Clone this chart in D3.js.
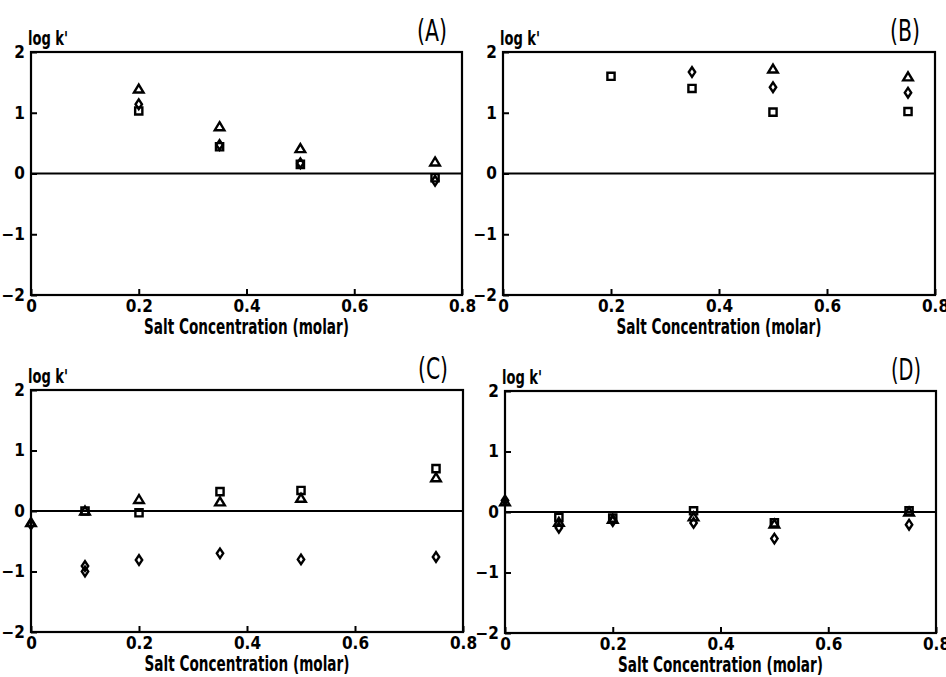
<!DOCTYPE html>
<html>
<head>
<meta charset="utf-8">
<script src="https://cdn.jsdelivr.net/npm/d3@7"></script>
<style>
  body { margin: 0; background: #fff; }
  svg { display: block; }
  .tick text { font-family: "Liberation Sans Narrow", "DejaVu Sans Condensed", sans-serif; font-weight: bold; fill: #000; }
</style>
</head>
<body>
<svg id="chart" width="946" height="677"></svg>
<script>
// x ticks and y ticks shared by all four panels
const xTicks = [0, 0.2, 0.4, 0.6, 0.8];
const yTicks = [-2, -1, 0, 1, 2];
const panelNames = ["(A)", "(B)", "(C)", "(D)"];

// [salt concentration, log k']
const aTriangle = [[0.2, 1.39], [0.35, 0.77], [0.5, 0.41], [0.75, 0.19]];
const aDiamond = [[0.2, 1.14], [0.35, 0.47], [0.5, 0.17], [0.75, -0.12]];
const aSquare = [[0.2, 1.03], [0.35, 0.44], [0.5, 0.15], [0.75, -0.07]];

const bTriangle = [[0.5, 1.72], [0.75, 1.59]];
const bDiamond = [[0.35, 1.67], [0.5, 1.42], [0.75, 1.33]];
const bSquare = [[0.2, 1.6], [0.35, 1.4], [0.5, 1.01], [0.75, 1.02]];

const cTriangle = [[0, -0.19], [0.1, 0.0], [0.2, 0.19], [0.35, 0.15], [0.5, 0.21], [0.75, 0.55]];
const cDiamond = [[0, -0.22], [0.1, -0.91], [0.1, -1.0], [0.2, -0.81], [0.35, -0.7], [0.5, -0.8], [0.75, -0.76]];
const cSquare = [[0.1, 0.0], [0.2, -0.03], [0.35, 0.32], [0.5, 0.34], [0.75, 0.7]];

const dTriangle = [[0, 0.17], [0.1, -0.17], [0.2, -0.12], [0.35, -0.08], [0.5, -0.2], [0.75, 0.0]];
const dDiamond = [[0, 0.19], [0.1, -0.26], [0.2, -0.15], [0.35, -0.18], [0.5, -0.44], [0.75, -0.21]];
const dSquare = [[0.1, -0.09], [0.2, -0.1], [0.35, 0.02], [0.5, -0.18], [0.75, 0.02]];

const panelData = [
    { triangle: aTriangle, diamond: aDiamond, square: aSquare },
    { triangle: bTriangle, diamond: bDiamond, square: bSquare },
    { triangle: cTriangle, diamond: cDiamond, square: cSquare },
    { triangle: dTriangle, diamond: dDiamond, square: dSquare }
];

// plot boxes (left, right, top, bottom)
const boxes = [
    { left: 31, right: 462, top: 52, bottom: 295 },
    { left: 503, right: 935, top: 52, bottom: 295 },
    { left: 31, right: 463, top: 390, bottom: 632 },
    { left: 505, right: 936, top: 391, bottom: 633 }
];

const shapes = {
    triangle: "M0,-4.5L4.8,3.5L-4.8,3.5Z",
    square: "M-3.6,-3.6H3.6V3.6H-3.6Z",
    diamond: "M0,-4.8L3.2,0L0,4.8L-3.2,0Z"
};

const narrow = '"Liberation Sans Narrow", "DejaVu Sans Condensed", sans-serif';
const svg = d3.select("#chart");

boxes.forEach((b, i) => {
    const x = d3.scaleLinear().domain([0, 0.8]).range([b.left, b.right]);
    const y = d3.scaleLinear().domain([-2, 2]).range([b.bottom, b.top]);
    const g = svg.append("g");

    // X Axis (ticks point inward)
    const xAxis = g.append("g")
        .attr("transform", `translate(0,${b.bottom})`)
        .call(d3.axisBottom(x).tickValues(xTicks).tickSize(-6).tickSizeOuter(0).tickPadding(5)
            .tickFormat(d => d === 0 ? "0" : d3.format(".1f")(d)));
    xAxis.selectAll("text").style("font-size", "17px");
    xAxis.select(".domain").remove();
    xAxis.selectAll("line").attr("stroke-width", 2);

    // Y Axis
    const yAxis = g.append("g")
        .attr("transform", `translate(${b.left},0)`)
        .call(d3.axisLeft(y).tickValues(yTicks).tickSize(-6).tickSizeOuter(0).tickPadding(6)
            .tickFormat(d => d < 0 ? "\u2212" + Math.abs(d) : String(d)));
    yAxis.selectAll("text").style("font-size", "17px");
    yAxis.select(".domain").remove();
    yAxis.selectAll("line").attr("stroke-width", 2);

    // frame
    g.append("rect")
        .attr("x", b.left).attr("y", b.top)
        .attr("width", b.right - b.left).attr("height", b.bottom - b.top)
        .attr("fill", "none").attr("stroke", "#000").attr("stroke-width", 2.2);

    // zero line
    g.append("line")
        .attr("x1", x(0)).attr("x2", x(0.8))
        .attr("y1", y(0)).attr("y2", y(0))
        .attr("stroke", "#000").attr("stroke-width", 2);

    // markers
    const pd = panelData[i];
    ["diamond", "square", "triangle"].forEach(kind => {
        g.append("g")
            .selectAll("path")
            .data(pd[kind])
            .join("path")
            .attr("transform", d => `translate(${x(d[0])},${y(d[1])})`)
            .attr("d", shapes[kind])
            .attr("fill", "none")
            .attr("stroke", "#000")
            .attr("stroke-width", 2.4);
    });

    // labels
    g.append("text")
        .attr("x", b.left - 3).attr("y", b.top - 7)
        .attr("font-family", narrow).attr("font-weight", "bold").attr("font-size", 20)
        .attr("textLength", 40).attr("lengthAdjust", "spacingAndGlyphs")
        .text("log k'");

    g.append("text")
        .attr("x", (b.left + b.right) / 2).attr("y", b.bottom + 39)
        .attr("text-anchor", "middle")
        .attr("font-family", narrow).attr("font-weight", "bold").attr("font-size", 21)
        .attr("textLength", 205).attr("lengthAdjust", "spacingAndGlyphs")
        .text("Salt Concentration (molar)");

    g.append("text")
        .attr("x", b.right - 15).attr("y", b.top - 11)
        .attr("text-anchor", "end")
        .attr("font-family", narrow).attr("font-size", 31)
        .attr("textLength", 30).attr("lengthAdjust", "spacingAndGlyphs")
        .text(panelNames[i]);
});
</script>
</body>
</html>
